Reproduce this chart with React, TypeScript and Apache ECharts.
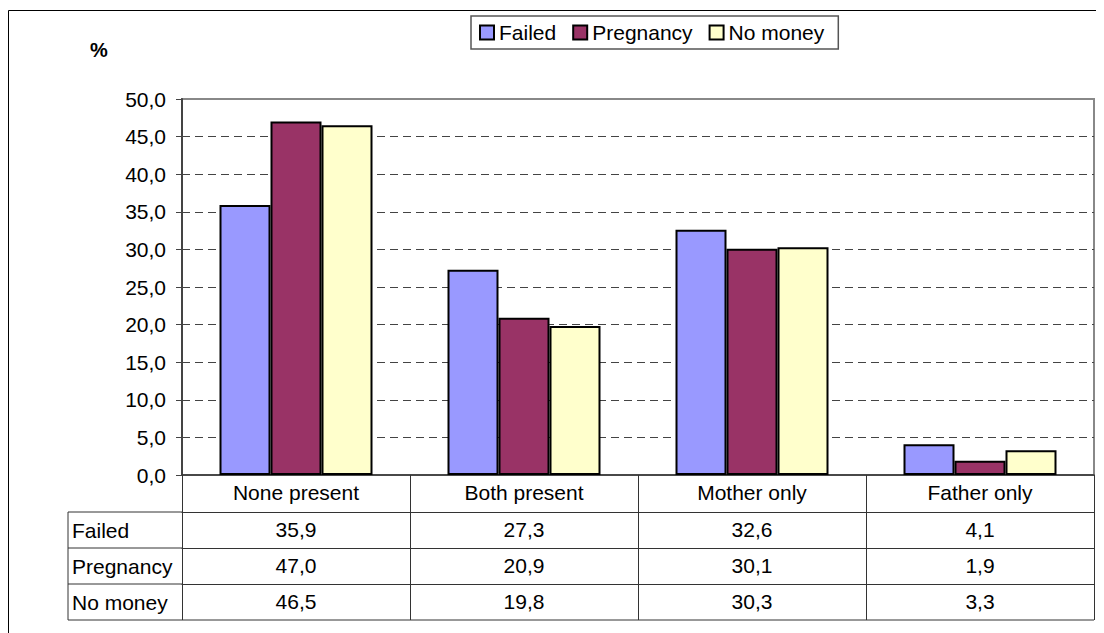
import React, { useEffect, useRef } from "react";
import * as echarts from "echarts";

const categories = ["None present", "Both present", "Mother only", "Father only"];
const seriesNames = ["Failed", "Pregnancy", "No money"];
const failed = [35.9, 27.3, 32.6, 4.1];
const pregnancy = [47.0, 20.9, 30.1, 1.9];
const noMoney = [46.5, 19.8, 30.3, 3.3];
const seriesValues = [failed, pregnancy, noMoney];
const seriesColors = ["#9999FF", "#993366", "#FFFFCC"];
const yMin = 0;
const yMax = 50;
const yStep = 5;

const W = 1096;
const H = 625;
const GRID_LEFT = 174;
const GRID_TOP = 91;
const GRID_W = 912;
const GRID_H = 376;
const HEADER_H = 37;
const ROW_H = 36;
const LABEL_X = 60;
const FONT = "'Liberation Sans', Arial, sans-serif";
const LINE = "#333";

const fmt = (v: number) => v.toFixed(1).replace(".", ",");

export default function App() {
  const ref = useRef<HTMLDivElement>(null);
  useEffect(() => {
    if (!ref.current) return;
    const chart = echarts.init(ref.current, undefined, { renderer: "svg" });
    const gridBottom = GRID_TOP + GRID_H;
    const tableBottom = gridBottom + HEADER_H + seriesNames.length * ROW_H;

    const xAxes: any[] = [
      {
        type: "category",
        data: categories,
        position: "bottom",
        axisLine: { show: true, lineStyle: { color: LINE, width: 1.5 } },
        axisTick: { show: true, interval: 0, length: HEADER_H, lineStyle: { color: LINE } },
        axisLabel: { interval: 0, fontSize: 21, color: "#000", fontFamily: FONT, margin: 7 },
        splitLine: { show: false },
      },
    ];
    seriesNames.forEach((name, i) => {
      xAxes.push({
        type: "category",
        data: categories,
        position: "bottom",
        offset: HEADER_H + i * ROW_H,
        axisLine: { show: true, lineStyle: { color: LINE, width: 1 } },
        axisTick: { show: true, interval: 0, length: ROW_H, lineStyle: { color: LINE } },
        axisLabel: {
          interval: 0,
          fontSize: 21,
          color: "#000",
          fontFamily: FONT,
          margin: 7,
          formatter: (_v: string, idx: number) => fmt(seriesValues[i][idx]),
        },
        name,
        nameLocation: "start",
        nameGap: GRID_LEFT - (LABEL_X + 4),
        nameTextStyle: {
          align: "left",
          verticalAlign: "top",
          lineHeight: ROW_H,
          fontSize: 21,
          color: "#000",
          fontFamily: FONT,
        },
        splitLine: { show: false },
      });
    });

    const graphics: any[] = [
      {
        type: "rect",
        shape: { x: 0.5, y: 2.5, width: 1400, height: 900 },
        style: { fill: "none", stroke: "#000", lineWidth: 1 },
        silent: true,
        z: -10,
      },
      {
        type: "line",
        shape: { x1: LABEL_X, y1: tableBottom, x2: GRID_LEFT + GRID_W, y2: tableBottom },
        style: { stroke: LINE, lineWidth: 1 },
      },
      {
        type: "line",
        shape: { x1: LABEL_X, y1: gridBottom + HEADER_H, x2: LABEL_X, y2: tableBottom },
        style: { stroke: LINE, lineWidth: 1 },
      },
    ];
    seriesNames.forEach((_n, i) => {
      const y = gridBottom + HEADER_H + i * ROW_H;
      graphics.push({
        type: "line",
        shape: { x1: LABEL_X, y1: y, x2: GRID_LEFT, y2: y },
        style: { stroke: LINE, lineWidth: 1 },
      });
    });

    chart.setOption({
      animation: false,
      title: {
        text: "%",
        left: 77,
        top: 27,
        textStyle: { fontSize: 20, fontWeight: "bold", color: "#000", fontFamily: FONT },
      },
      legend: {
        data: seriesNames,
        left: 463,
        top: 8,
        orient: "horizontal",
        icon: "rect",
        itemWidth: 14,
        itemHeight: 14,
        itemGap: 16,
        padding: [6, 14, 6, 8],
        borderColor: "#555",
        borderWidth: 1.5,
        textStyle: { fontSize: 21, color: "#000", fontFamily: FONT },
        itemStyle: { borderColor: "#000", borderWidth: 2 },
      },
      grid: {
        left: GRID_LEFT,
        top: GRID_TOP,
        width: GRID_W,
        height: GRID_H,
        show: true,
        borderColor: "#888",
        borderWidth: 2,
        backgroundColor: "#fff",
      },
      xAxis: xAxes,
      yAxis: {
        type: "value",
        min: yMin,
        max: yMax,
        interval: yStep,
        axisLine: { show: true, lineStyle: { color: "#444", width: 2 } },
        axisTick: { show: true, length: 6, lineStyle: { color: "#444" } },
        axisLabel: {
          fontSize: 21,
          color: "#000",
          fontFamily: FONT,
          margin: 16,
          formatter: (v: number) => fmt(v),
        },
        splitLine: {
          show: true,
          showMinLine: false,
          showMaxLine: false,
          lineStyle: { color: "#444", type: [8, 5], width: 1 },
        },
      },
      series: seriesNames.map((name, i) => ({
        name,
        type: "bar",
        xAxisIndex: 0,
        yAxisIndex: 0,
        data: seriesValues[i],
        barWidth: 51,
        barGap: "0%",
        itemStyle: { color: seriesColors[i], borderColor: "#000", borderWidth: 2 },
      })),
      graphic: graphics,
    });
    return () => chart.dispose();
  }, []);
  return <div ref={ref} style={{ width: W, height: H }} />;
}
